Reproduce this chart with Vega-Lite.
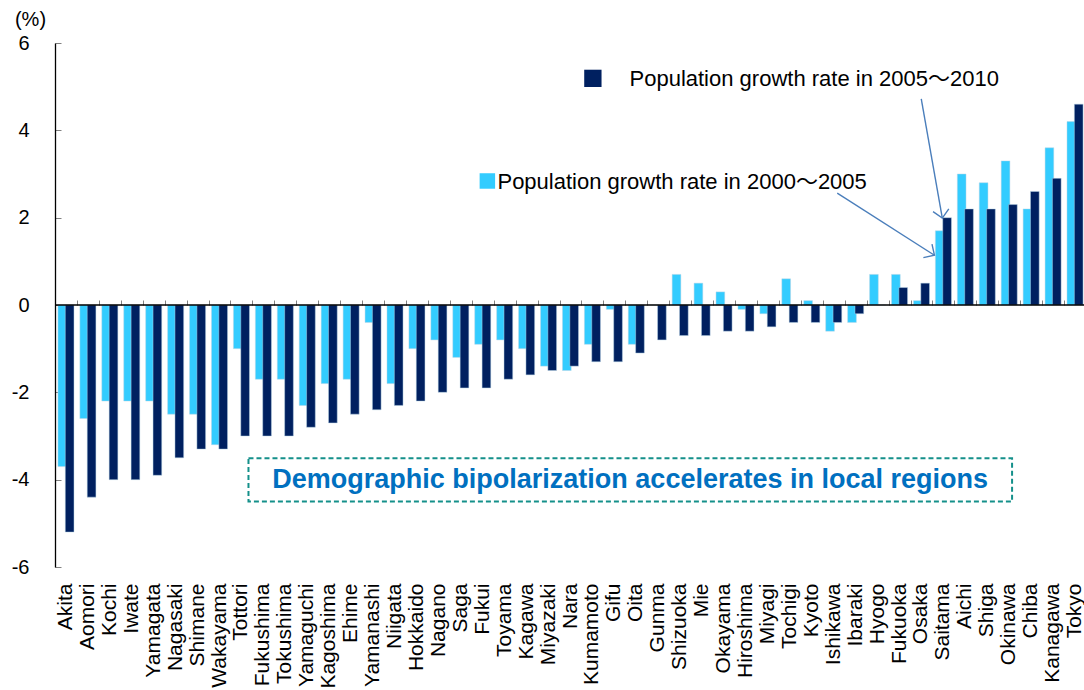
{
  "$schema": "https://vega.github.io/schema/vega-lite/v6.json",
  "width": 1031,
  "height": 524,
  "autosize": {"type": "none"},
  "padding": {"left": 55, "top": 43, "right": 0, "bottom": 123},
  "background": "white",
  "config": {"font": "Liberation Sans", "view": {"stroke": null}},
  "datasets": {
    "pop": [
      {"pref": "Akita", "r0005": -3.7, "r0510": -5.2},
      {"pref": "Aomori", "r0005": -2.6, "r0510": -4.4},
      {"pref": "Kochi", "r0005": -2.2, "r0510": -4.0},
      {"pref": "Iwate", "r0005": -2.2, "r0510": -4.0},
      {"pref": "Yamagata", "r0005": -2.2, "r0510": -3.9},
      {"pref": "Nagasaki", "r0005": -2.5, "r0510": -3.5},
      {"pref": "Shimane", "r0005": -2.5, "r0510": -3.3},
      {"pref": "Wakayama", "r0005": -3.2, "r0510": -3.3},
      {"pref": "Tottori", "r0005": -1.0, "r0510": -3.0},
      {"pref": "Fukushima", "r0005": -1.7, "r0510": -3.0},
      {"pref": "Tokushima", "r0005": -1.7, "r0510": -3.0},
      {"pref": "Yamaguchi", "r0005": -2.3, "r0510": -2.8},
      {"pref": "Kagoshima", "r0005": -1.8, "r0510": -2.7},
      {"pref": "Ehime", "r0005": -1.7, "r0510": -2.5},
      {"pref": "Yamanashi", "r0005": -0.4, "r0510": -2.4},
      {"pref": "Niigata", "r0005": -1.8, "r0510": -2.3},
      {"pref": "Hokkaido", "r0005": -1.0, "r0510": -2.2},
      {"pref": "Nagano", "r0005": -0.8, "r0510": -2.0},
      {"pref": "Saga", "r0005": -1.2, "r0510": -1.9},
      {"pref": "Fukui", "r0005": -0.9, "r0510": -1.9},
      {"pref": "Toyama", "r0005": -0.8, "r0510": -1.7},
      {"pref": "Kagawa", "r0005": -1.0, "r0510": -1.6},
      {"pref": "Miyazaki", "r0005": -1.4, "r0510": -1.5},
      {"pref": "Nara", "r0005": -1.5, "r0510": -1.4},
      {"pref": "Kumamoto", "r0005": -0.9, "r0510": -1.3},
      {"pref": "Gifu", "r0005": -0.1, "r0510": -1.3},
      {"pref": "Oita", "r0005": -0.9, "r0510": -1.1},
      {"pref": "Gunma", "r0005": 0.0, "r0510": -0.8},
      {"pref": "Shizuoka", "r0005": 0.7, "r0510": -0.7},
      {"pref": "Mie", "r0005": 0.5, "r0510": -0.7},
      {"pref": "Okayama", "r0005": 0.3, "r0510": -0.6},
      {"pref": "Hiroshima", "r0005": -0.1, "r0510": -0.6},
      {"pref": "Miyagi", "r0005": -0.2, "r0510": -0.5},
      {"pref": "Tochigi", "r0005": 0.6, "r0510": -0.4},
      {"pref": "Kyoto", "r0005": 0.1, "r0510": -0.4},
      {"pref": "Ishikawa", "r0005": -0.6, "r0510": -0.4},
      {"pref": "Ibaraki", "r0005": -0.4, "r0510": -0.2},
      {"pref": "Hyogo", "r0005": 0.7, "r0510": 0.0},
      {"pref": "Fukuoka", "r0005": 0.7, "r0510": 0.4},
      {"pref": "Osaka", "r0005": 0.1, "r0510": 0.5},
      {"pref": "Saitama", "r0005": 1.7, "r0510": 2.0},
      {"pref": "Aichi", "r0005": 3.0, "r0510": 2.2},
      {"pref": "Shiga", "r0005": 2.8, "r0510": 2.2},
      {"pref": "Okinawa", "r0005": 3.3, "r0510": 2.3},
      {"pref": "Chiba", "r0005": 2.2, "r0510": 2.6},
      {"pref": "Kanagawa", "r0005": 3.6, "r0510": 2.9},
      {"pref": "Tokyo", "r0005": 4.2, "r0510": 4.6}
    ]
  },
  "layer": [
    {
      "data": {"name": "pop"},
      "transform": [{"fold": ["r0005", "r0510"], "as": ["period", "value"]}],
      "mark": {"type": "bar", "width": 8.7, "stroke": "#b8d4e6", "strokeWidth": 0.6, "strokeOpacity": 0.8},
      "encoding": {
        "x": {
          "field": "pref", "type": "nominal", "sort": null,
          "scale": {"paddingInner": 0.33, "paddingOuter": 0.165},
          "axis": {
            "title": null, "orient": "bottom", "ticks": false, "domain": false,
            "labelAngle": -90, "labelFontSize": 21, "labelColor": "black",
            "labelPadding": 16, "labelOverlap": false, "labelFont": "Liberation Sans"
          }
        },
        "xOffset": {"field": "period", "type": "nominal", "sort": ["r0005", "r0510"], "scale": {"paddingInner": 0, "paddingOuter": 0}},
        "y": {
          "field": "value", "type": "quantitative",
          "scale": {"domain": [-6, 6], "nice": false, "zero": false},
          "axis": {
            "values": [-6, -4, -2, 0, 2, 4, 6], "grid": false,
            "labelExpr": "toString(datum.value)",
            "domainColor": "black", "domainWidth": 1.3,
            "tickColor": "#808080", "tickSize": -6, "tickWidth": 1,
            "labelFontSize": 20, "labelColor": "black", "labelPadding": 32,
            "title": "(%)", "titleAngle": 0, "titleFontSize": 20, "titleFontWeight": "normal",
            "titleColor": "black", "titleAlign": "center", "titleBaseline": "middle",
            "titleX": -25, "titleY": -24
          }
        },
        "color": {
          "field": "period", "type": "nominal",
          "scale": {"domain": ["r0005", "r0510"], "range": ["#33CCFF", "#002060"]},
          "legend": null
        }
      }
    },
    {
      "data": {"name": "pop"},
      "mark": {"type": "point", "opacity": 0},
      "encoding": {
        "x": {
          "field": "pref", "type": "nominal", "sort": null,
          "scale": {"type": "band", "paddingInner": 0, "paddingOuter": 0},
          "axis": {
            "title": null, "orient": "top", "offset": -262, "labels": false, "domain": false,
            "ticks": true, "tickBand": "extent", "tickSize": 5, "tickColor": "#808080", "tickWidth": 1
          }
        }
      }
    },
    {
      "data": {"values": [{}]},
      "mark": {"type": "rule", "color": "black", "strokeWidth": 1.5},
      "encoding": {"y": {"datum": 0}}
    },
    {
      "data": {"values": [{}]},
      "layer": [
        {
          "mark": {"type": "rect", "fill": "white", "stroke": "#14908A", "strokeWidth": 2, "strokeDash": [5, 3]},
          "encoding": {
            "x": {"datum": 8.82, "type": "quantitative", "scale": {"domain": [0, 47], "nice": false, "zero": false}, "axis": null},
            "x2": {"datum": 43.63},
            "y": {"datum": -3.51},
            "y2": {"datum": -4.5}
          }
        },
        {
          "mark": {"type": "text", "fontSize": 27, "fontWeight": "bold", "color": "#0070C0", "align": "center", "baseline": "middle"},
          "encoding": {
            "x": {"datum": 26.22, "type": "quantitative", "axis": null},
            "y": {"datum": -4.01},
            "text": {"value": "Demographic bipolarization accelerates in local regions"}
          }
        },
        {
          "mark": {"type": "point", "shape": "square", "filled": true, "size": 300, "color": "#002060", "opacity": 1},
          "encoding": {
            "x": {"datum": 24.52, "type": "quantitative", "axis": null},
            "y": {"datum": 5.19}
          }
        },
        {
          "mark": {"type": "point", "shape": "square", "filled": true, "size": 240, "color": "#33CCFF", "opacity": 1},
          "encoding": {
            "x": {"datum": 19.71, "type": "quantitative", "axis": null},
            "y": {"datum": 2.84}
          }
        },
        {
          "mark": {"type": "text", "fontSize": 22, "color": "black", "align": "left", "baseline": "middle", "font": "Liberation Sans, Noto Sans CJK JP"},
          "encoding": {
            "x": {"datum": 26.19, "type": "quantitative", "axis": null},
            "y": {"datum": 5.17},
            "text": {"value": "Population growth rate in 2005～2010"}
          }
        },
        {
          "mark": {"type": "text", "fontSize": 22, "color": "black", "align": "left", "baseline": "middle", "font": "Liberation Sans, Noto Sans CJK JP"},
          "encoding": {
            "x": {"datum": 20.17, "type": "quantitative", "axis": null},
            "y": {"datum": 2.82},
            "text": {"value": "Population growth rate in 2000～2005"}
          }
        },
        {
          "mark": {"type": "rule", "color": "#4A7EBB", "strokeWidth": 1.4},
          "encoding": {
            "x": {"datum": 39.49, "type": "quantitative", "axis": null},
            "x2": {"datum": 40.45},
            "y": {"datum": 4.72},
            "y2": {"datum": 1.99}
          }
        },
        {
          "mark": {"type": "rule", "color": "#4A7EBB", "strokeWidth": 1.4},
          "encoding": {
            "x": {"datum": 35.66, "type": "quantitative", "axis": null},
            "x2": {"datum": 40.09},
            "y": {"datum": 2.56},
            "y2": {"datum": 1.14}
          }
        },
        {
          "mark": {"type": "point", "shape": "M-1,1L0,0L1,1", "filled": false, "size": 256, "angle": 170, "stroke": "#4A7EBB", "strokeWidth": 1.4, "opacity": 1},
          "encoding": {
            "x": {"datum": 40.45, "type": "quantitative", "axis": null},
            "y": {"datum": 1.99}
          }
        },
        {
          "mark": {"type": "point", "shape": "M-1,1L0,0L1,1", "filled": false, "size": 256, "angle": 122.6, "stroke": "#4A7EBB", "strokeWidth": 1.4, "opacity": 1},
          "encoding": {
            "x": {"datum": 40.09, "type": "quantitative", "axis": null},
            "y": {"datum": 1.14}
          }
        }
      ]
    }
  ],
  "resolve": {"scale": {"x": "independent"}, "axis": {"x": "independent"}}
}
